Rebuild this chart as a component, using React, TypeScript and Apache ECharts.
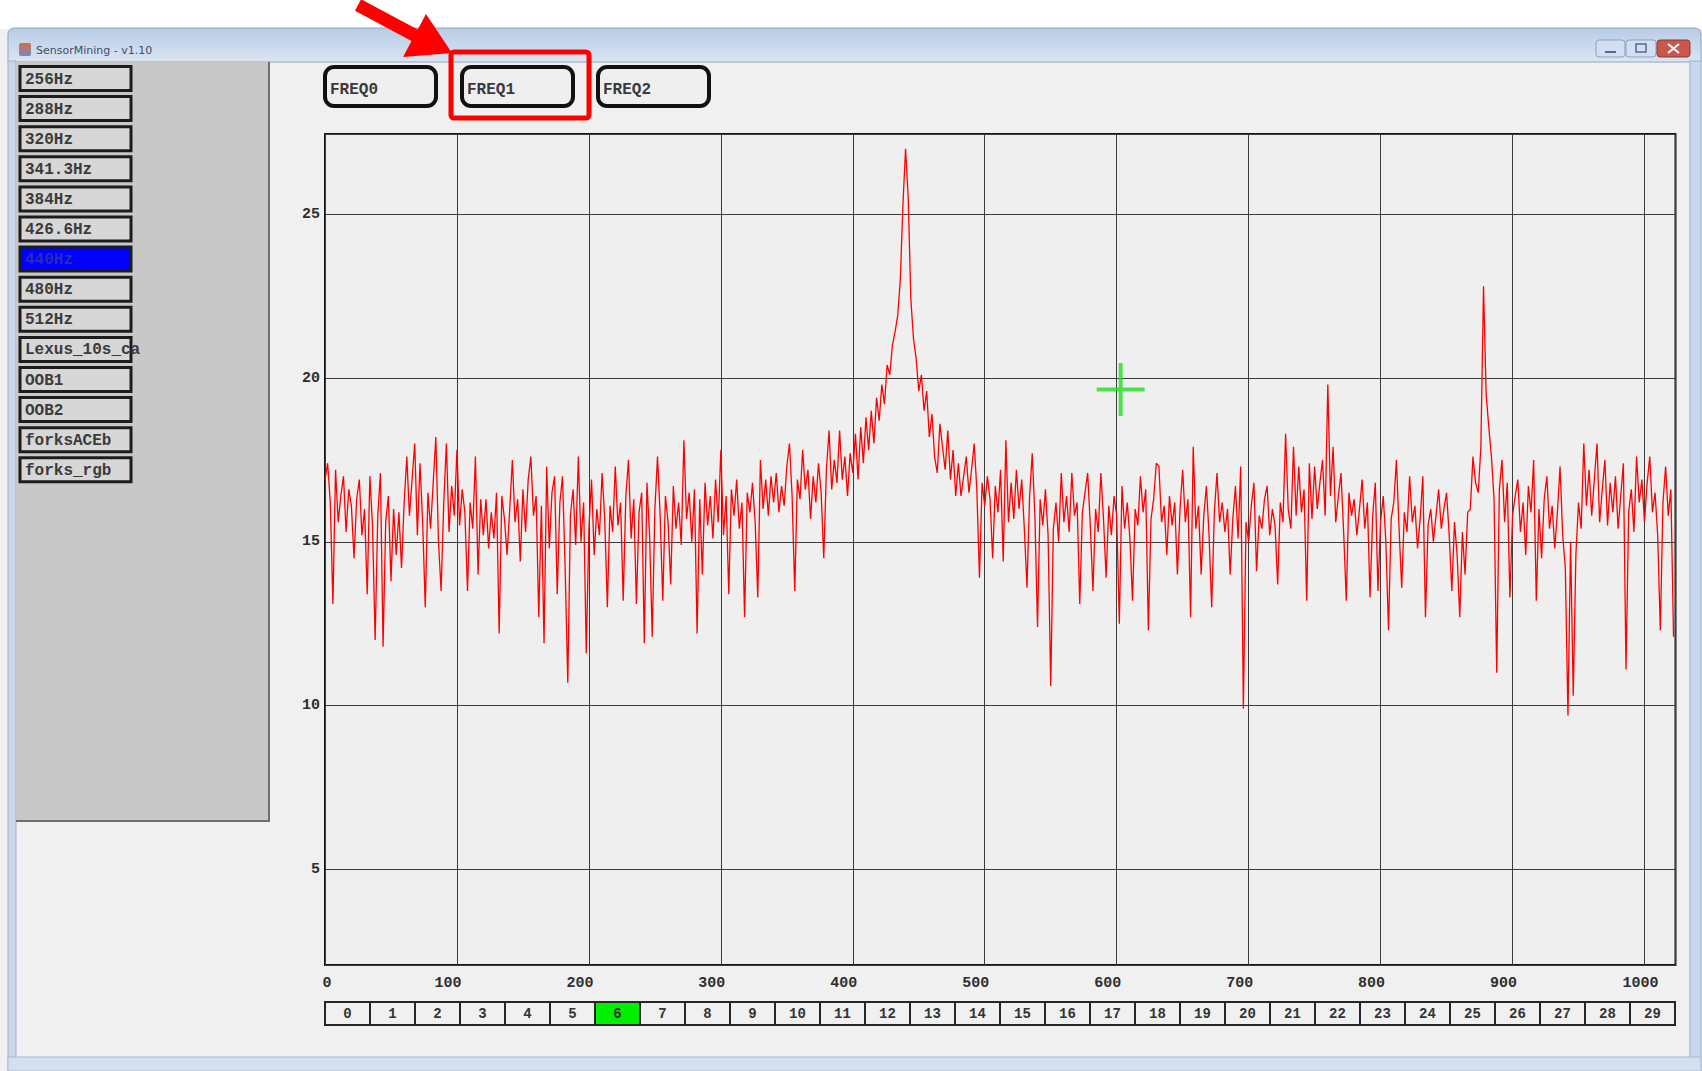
import React, { useEffect, useRef } from "react";
import * as echarts from "echarts";

// Spectrum magnitude, one value for every second FFT bin (bins 0, 2, 4 ... 1022)
const spectrum: number[] = [
  16.9, 17.4, 16.2, 13.1, 17.2, 15.6, 16.4, 17.0, 15.3, 16.6,
  16.1, 14.5, 16.3, 16.9, 15.2, 16.0, 13.4, 17.0, 15.5, 12.0,
  15.8, 17.1, 11.8, 15.6, 16.4, 13.8, 16.0, 14.6, 15.9, 14.2,
  16.2, 17.6, 15.8, 16.9, 18.0, 15.2, 17.4, 15.6, 13.0, 16.5,
  15.4, 16.8, 18.2, 15.0, 13.5, 16.2, 18.0, 15.3, 16.7, 15.8,
  17.8, 15.5, 16.6, 15.9, 13.5, 16.2, 15.4, 17.6, 14.0, 16.3,
  15.2, 16.3, 14.8, 15.9, 15.1, 16.5, 12.2, 16.4, 15.7, 14.6,
  16.0, 17.5, 15.6, 16.3, 14.4, 16.6, 15.3, 16.9, 17.6, 15.8,
  16.4, 12.7, 16.1, 11.9, 17.3, 14.8, 16.5, 17.0, 13.4, 16.2,
  17.0, 14.2, 10.7, 15.8, 16.6, 14.9, 17.6, 15.0, 16.2, 11.6,
  15.4, 16.9, 14.6, 16.0, 15.2, 17.1, 15.7, 13.0, 16.1, 15.3,
  17.3, 15.5, 16.2, 13.2, 16.4, 17.5, 15.1, 16.3, 13.1, 15.9,
  16.5, 11.9, 16.8, 15.2, 12.1, 16.0, 17.6, 15.8, 13.2, 16.4,
  15.6, 13.7, 16.7, 15.4, 16.2, 14.9, 18.1, 15.7, 16.5, 15.0,
  16.6, 12.2, 16.3, 14.0, 16.8, 15.5, 16.4, 15.1, 16.9, 15.6,
  17.8, 15.2, 16.4, 13.4, 16.6, 15.8, 16.9, 15.4, 16.2, 12.7,
  16.5, 15.9, 16.8, 15.6, 13.3, 17.5, 16.0, 16.9, 15.8, 17.0,
  16.2, 17.1, 15.9, 16.7, 16.1, 17.3, 18.0, 16.4, 13.5, 16.9,
  16.3, 17.8, 16.6, 17.2, 15.7, 17.0, 16.2, 17.4, 16.5, 14.5,
  17.2, 18.4, 16.6, 17.5, 16.8, 18.4, 16.9, 17.6, 16.4, 17.7,
  17.1, 18.3, 16.9, 18.5, 17.4, 18.8, 17.8, 19.0, 18.0, 19.4,
  18.7, 19.8, 19.2, 20.4, 20.1, 21.0, 21.4, 21.9, 23.0, 25.3,
  27.0, 25.5, 22.4, 21.2, 20.6, 19.6, 20.1, 19.0, 19.6, 18.2,
  18.9, 17.6, 17.1, 18.6, 17.9, 17.2, 18.4, 16.9, 17.8, 16.4,
  17.4, 16.4, 17.0, 17.6, 16.5, 17.2, 18.0, 16.6, 13.9, 16.8,
  16.1, 17.0, 16.3, 14.5, 16.7, 15.9, 17.2, 14.4, 18.1, 15.6,
  16.8, 15.7, 17.2, 16.0, 16.9, 15.4, 13.6, 16.4, 17.7, 15.8,
  12.4, 16.3, 15.5, 16.6, 15.2, 10.6, 15.4, 16.2, 15.0, 17.1,
  15.6, 16.4, 15.3, 17.1, 15.8, 16.2, 13.1, 15.9, 16.5, 17.1,
  15.5, 13.5, 16.0, 15.3, 17.1, 15.7, 13.9, 16.1, 15.2, 16.4,
  15.8, 12.5, 16.7, 15.4, 16.2, 15.1, 13.2, 16.0, 15.5, 17.0,
  15.9, 16.6, 12.3, 15.7, 16.3, 17.4, 17.3, 15.6, 16.1, 14.6,
  16.4, 15.5, 16.2, 14.0, 16.0, 17.2, 15.6, 16.3, 12.7, 17.9,
  15.4, 16.1, 14.0, 15.8, 16.7, 15.2, 13.0, 15.9, 17.1, 15.6,
  16.2, 15.3, 16.0, 14.0, 15.7, 16.7, 15.1, 17.3, 9.9, 15.6,
  15.0, 16.1, 16.8, 14.1, 15.8, 15.4, 16.3, 16.7, 15.2, 16.0,
  15.5, 13.7, 16.2, 15.6, 18.3, 16.0, 15.4, 17.9, 15.8, 17.3,
  15.9, 16.6, 13.2, 17.4, 15.7, 17.3, 16.0, 16.8, 17.5, 15.8,
  19.8, 16.4, 17.9, 15.6, 16.4, 17.1, 15.3, 13.2, 16.5, 15.8,
  16.3, 15.2, 16.0, 16.9, 15.4, 16.2, 13.3, 15.8, 16.8, 13.5,
  15.6, 16.4, 15.0, 12.3, 15.7, 16.2, 17.5, 15.4, 13.6, 15.9,
  15.3, 17.0, 15.6, 16.1, 14.8, 15.7, 17.0, 12.7, 15.5, 16.0,
  15.0, 15.8, 16.6, 15.4, 16.0, 16.5, 15.2, 13.5, 15.6, 14.6,
  12.7, 15.3, 14.0, 15.9, 16.0, 17.6, 16.8, 16.5, 17.9, 22.8,
  19.5, 18.5, 17.6, 16.3, 11.0, 16.6, 17.5, 15.6, 16.8, 13.3,
  15.8, 16.4, 16.9, 15.3, 16.2, 14.6, 16.7, 15.9, 17.5, 13.2,
  16.0, 14.5, 16.3, 17.0, 15.4, 16.1, 14.8, 15.9, 17.3, 15.2,
  14.2, 9.7, 15.0, 10.3, 14.6, 16.2, 15.4, 18.0, 16.1, 17.2,
  15.8, 16.9, 18.0, 15.6, 16.6, 17.5, 15.5, 16.8, 15.9, 17.0,
  15.4, 16.4, 17.4, 11.1, 15.9, 16.6, 15.3, 17.6, 16.2, 16.9,
  15.6, 16.8, 17.6, 15.9, 16.5, 15.2, 12.3, 16.2, 17.3, 15.8,
  16.6, 12.1,
];
const BIN_STEP = 2;

const X_MIN = 0;
const X_MAX = 1023.5;
const X_INTERVAL = 100;
const Y_MIN = 2.08;
const Y_MAX = 27.45;
const yTickValues = [5, 10, 15, 20, 25];

const cursorPoint: [number, number] = [603, 19.65];

const freqButtons = ["FREQ0", "FREQ1", "FREQ2"];
const highlightedFreq = 1;

const presetLabels = [
  "256Hz", "288Hz", "320Hz", "341.3Hz", "384Hz", "426.6Hz", "440Hz",
  "480Hz", "512Hz", "Lexus_10s_ca", "OOB1", "OOB2", "forksACEb", "forks_rgb",
];
const selectedPreset = 6;

const binLabels = [
  "0", "1", "2", "3", "4", "5", "6", "7", "8", "9",
  "10", "11", "12", "13", "14", "15", "16", "17", "18", "19",
  "20", "21", "22", "23", "24", "25", "26", "27", "28", "29",
];
const selectedBin = 6;

const windowTitle = "SensorMining - v1.10";

const MONO = '"Liberation Mono", "DejaVu Sans Mono", monospace';

function txt(x: number, y: number, text: string, font: string, fill: string, align = "left") {
  return {
    type: "text",
    x,
    y,
    z: 20,
    style: {
      text,
      font,
      fill,
      align,
      textAlign: align,
      verticalAlign: "middle",
      textVerticalAlign: "middle",
    },
  };
}

function buildGraphics(): any[] {
  const g: any[] = [];
  // white area above window
  g.push({ type: "rect", z: 1, shape: { x: 0, y: 0, width: 1702, height: 29 }, style: { fill: "#ffffff" } });
  // window frame
  g.push({
    type: "rect", z: 1,
    shape: { x: 8, y: 28, width: 1693, height: 34, r: [6, 6, 0, 0] },
    style: {
      fill: new echarts.graphic.LinearGradient(0, 0, 0, 1, [
        { offset: 0, color: "#b9cce6" },
        { offset: 0.5, color: "#c9d8ec" },
        { offset: 1, color: "#dbe5f2" },
      ]),
      stroke: "#8fa4c0",
      lineWidth: 1,
    },
  });
  g.push({ type: "rect", z: 1, shape: { x: 8, y: 61, width: 8, height: 1010 }, style: { fill: "#c8d7eb", stroke: "#9fb2cc", lineWidth: 1 } });
  g.push({ type: "rect", z: 1, shape: { x: 1690, y: 61, width: 11, height: 1010 }, style: { fill: "#c8d7eb", stroke: "#9fb2cc", lineWidth: 1 } });
  g.push({ type: "rect", z: 1, shape: { x: 8, y: 1057, width: 1693, height: 14 }, style: { fill: "#d3e0f0", stroke: "#a9bbd3", lineWidth: 1 } });
  // title icon + text
  g.push({
    type: "rect", z: 2, shape: { x: 19, y: 43, width: 12, height: 13, r: 2 },
    style: {
      fill: new echarts.graphic.LinearGradient(0, 0, 0, 1, [
        { offset: 0, color: "#e06a3a" },
        { offset: 1, color: "#6a8ec8" },
      ]),
    },
  });
  g.push(txt(36, 50, windowTitle, '11px "DejaVu Sans", sans-serif', "#3e4d6b"));
  // title bar buttons
  const tb = [
    { x: 1596, w: 29, fill: "#d3dff0", stroke: "#8aa0bf" },
    { x: 1626, w: 30, fill: "#d3dff0", stroke: "#8aa0bf" },
    { x: 1657, w: 33, fill: "#c9574c", stroke: "#8c3a32" },
  ];
  tb.forEach((b) => {
    g.push({ type: "rect", z: 2, shape: { x: b.x, y: 40, width: b.w, height: 17, r: 3 }, style: { fill: b.fill, stroke: b.stroke, lineWidth: 1 } });
  });
  g.push({ type: "line", z: 3, shape: { x1: 1605, y1: 52, x2: 1616, y2: 52 }, style: { stroke: "#5a6a86", lineWidth: 2 } });
  g.push({ type: "rect", z: 3, shape: { x: 1636, y: 44, width: 10, height: 8 }, style: { fill: "none", stroke: "#5a6a86", lineWidth: 1.5 } });
  g.push({ type: "line", z: 3, shape: { x1: 1668, y1: 44, x2: 1679, y2: 53 }, style: { stroke: "#ffffff", lineWidth: 2 } });
  g.push({ type: "line", z: 3, shape: { x1: 1679, y1: 44, x2: 1668, y2: 53 }, style: { stroke: "#ffffff", lineWidth: 2 } });

  // left panel
  g.push({ type: "rect", z: 2, shape: { x: 16, y: 62, width: 253, height: 759 }, style: { fill: "#c8c8c8" } });
  g.push({ type: "line", z: 3, shape: { x1: 269, y1: 62, x2: 269, y2: 822 }, style: { stroke: "#6f6f6f", lineWidth: 2 } });
  g.push({ type: "line", z: 3, shape: { x1: 16, y1: 821, x2: 270, y2: 821 }, style: { stroke: "#6f6f6f", lineWidth: 2 } });

  presetLabels.forEach((label, i) => {
    const cy = 78.5 + 30.1 * i;
    const sel = i === selectedPreset;
    g.push({
      type: "rect", z: 4,
      shape: { x: 20, y: cy - 12, width: 111, height: 24 },
      style: { fill: sel ? "#0000ff" : "#d7d7d7", stroke: "#1c1c1c", lineWidth: 3 },
    });
    g.push(txt(25, cy + 1, label, `bold 16px ${MONO}`, sel ? "#2a2ab8" : "#3b3b3b"));
  });

  // FREQ buttons
  const fx = [325, 462, 598];
  freqButtons.forEach((label, i) => {
    g.push({
      type: "rect", z: 4,
      shape: { x: fx[i], y: 67, width: 111, height: 39, r: 9 },
      style: { fill: "#efefef", stroke: "#111111", lineWidth: 4 },
    });
    g.push(txt(fx[i] + 5, 90, label, `bold 16px ${MONO}`, "#3a3a3a"));
  });
  // red highlight + arrow
  const hx = fx[highlightedFreq];
  g.push({
    type: "rect", z: 6,
    shape: { x: hx - 11, y: 52, width: 138, height: 66, r: 3 },
    style: { fill: "none", stroke: "#ff0000", lineWidth: 5 },
  });
  g.push({ type: "polyline", z: 6, shape: { points: [[358, 5], [416, 36]] }, style: { stroke: "#ff0000", lineWidth: 13 } });
  g.push({ type: "polygon", z: 6, shape: { points: [[403, 57], [426, 14], [452, 53]] }, style: { fill: "#ff0000" } });

  // bottom bin strip
  binLabels.forEach((label, i) => {
    const x = 325 + 45 * i;
    g.push({
      type: "rect", z: 4,
      shape: { x, y: 1002, width: 45, height: 23 },
      style: { fill: i === selectedBin ? "#00f000" : "#f0f0f0", stroke: "#262626", lineWidth: 2 },
    });
    g.push(txt(x + 22.5, 1014, label, `bold 14px ${MONO}`, "#333333", "center"));
  });
  return g;
}

export default function App() {
  const ref = useRef<HTMLDivElement>(null);
  useEffect(() => {
    if (!ref.current) return;
    const chart = echarts.init(ref.current, undefined, { renderer: "svg" });
    const lineData = spectrum.map((v, i) => [i * BIN_STEP, v]);
    chart.setOption({
      animation: false,
      backgroundColor: "#f0f0f0",
      grid: {
        left: 325,
        top: 134,
        width: 1350.5,
        height: 831,
        show: true,
        backgroundColor: "#efefef",
        borderColor: "#151515",
        borderWidth: 2,
      },
      xAxis: {
        type: "value",
        min: X_MIN,
        max: X_MAX,
        interval: X_INTERVAL,
        axisLine: { show: false },
        axisTick: { show: false },
        splitLine: { show: true, lineStyle: { color: "#3c3c3c", width: 1 } },
        axisLabel: {
          showMaxLabel: false,
          margin: 11,
          color: "#2e2e2e",
          fontFamily: MONO,
          fontWeight: "bold",
          fontSize: 15,
          formatter: (v: number) => {
            if (v === 0) return `{z|0}`;
            if (v >= 1000) return `{b|${v}}`;
            return `{a|${v}}`;
          },
          rich: {
            z: { fontFamily: MONO, fontWeight: "bold", fontSize: 15, color: "#2e2e2e", padding: [0, 0, 0, 4] },
            a: { fontFamily: MONO, fontWeight: "bold", fontSize: 15, color: "#2e2e2e", padding: [0, 18, 0, 0] },
            b: { fontFamily: MONO, fontWeight: "bold", fontSize: 15, color: "#2e2e2e", padding: [0, 8, 0, 0] },
          },
        },
      },
      yAxis: {
        type: "value",
        min: Y_MIN,
        max: Y_MAX,
        splitNumber: 5,
        axisLine: { show: false },
        axisTick: { show: false },
        splitLine: { show: true, lineStyle: { color: "#3c3c3c", width: 1 } },
        axisLabel: {
          showMinLabel: false,
          showMaxLabel: false,
          margin: 5,
          color: "#2e2e2e",
          fontFamily: MONO,
          fontWeight: "bold",
          fontSize: 15,
          formatter: (v: number) => (yTickValues.includes(v) ? String(v) : ""),
        },
      },
      graphic: buildGraphics(),
      series: [
        {
          type: "line",
          data: lineData,
          showSymbol: false,
          symbol: "none",
          lineStyle: { color: "#ff0000", width: 1.3 },
          itemStyle: { color: "#ff0000" },
          z: 5,
        },
        {
          type: "scatter",
          data: [cursorPoint],
          symbol: "path://M22,0h4v24.5h22v4h-22v24.5h-4v-24.5h-22v-4h22z",
          symbolSize: [48, 53],
          itemStyle: { color: "#22dd22" },
          z: 6,
        },
      ],
    });
    return () => chart.dispose();
  }, []);
  return (
    <div
      ref={ref}
      style={{ position: "fixed", left: 0, top: 0, width: 1702, height: 1071 }}
    />
  );
}
